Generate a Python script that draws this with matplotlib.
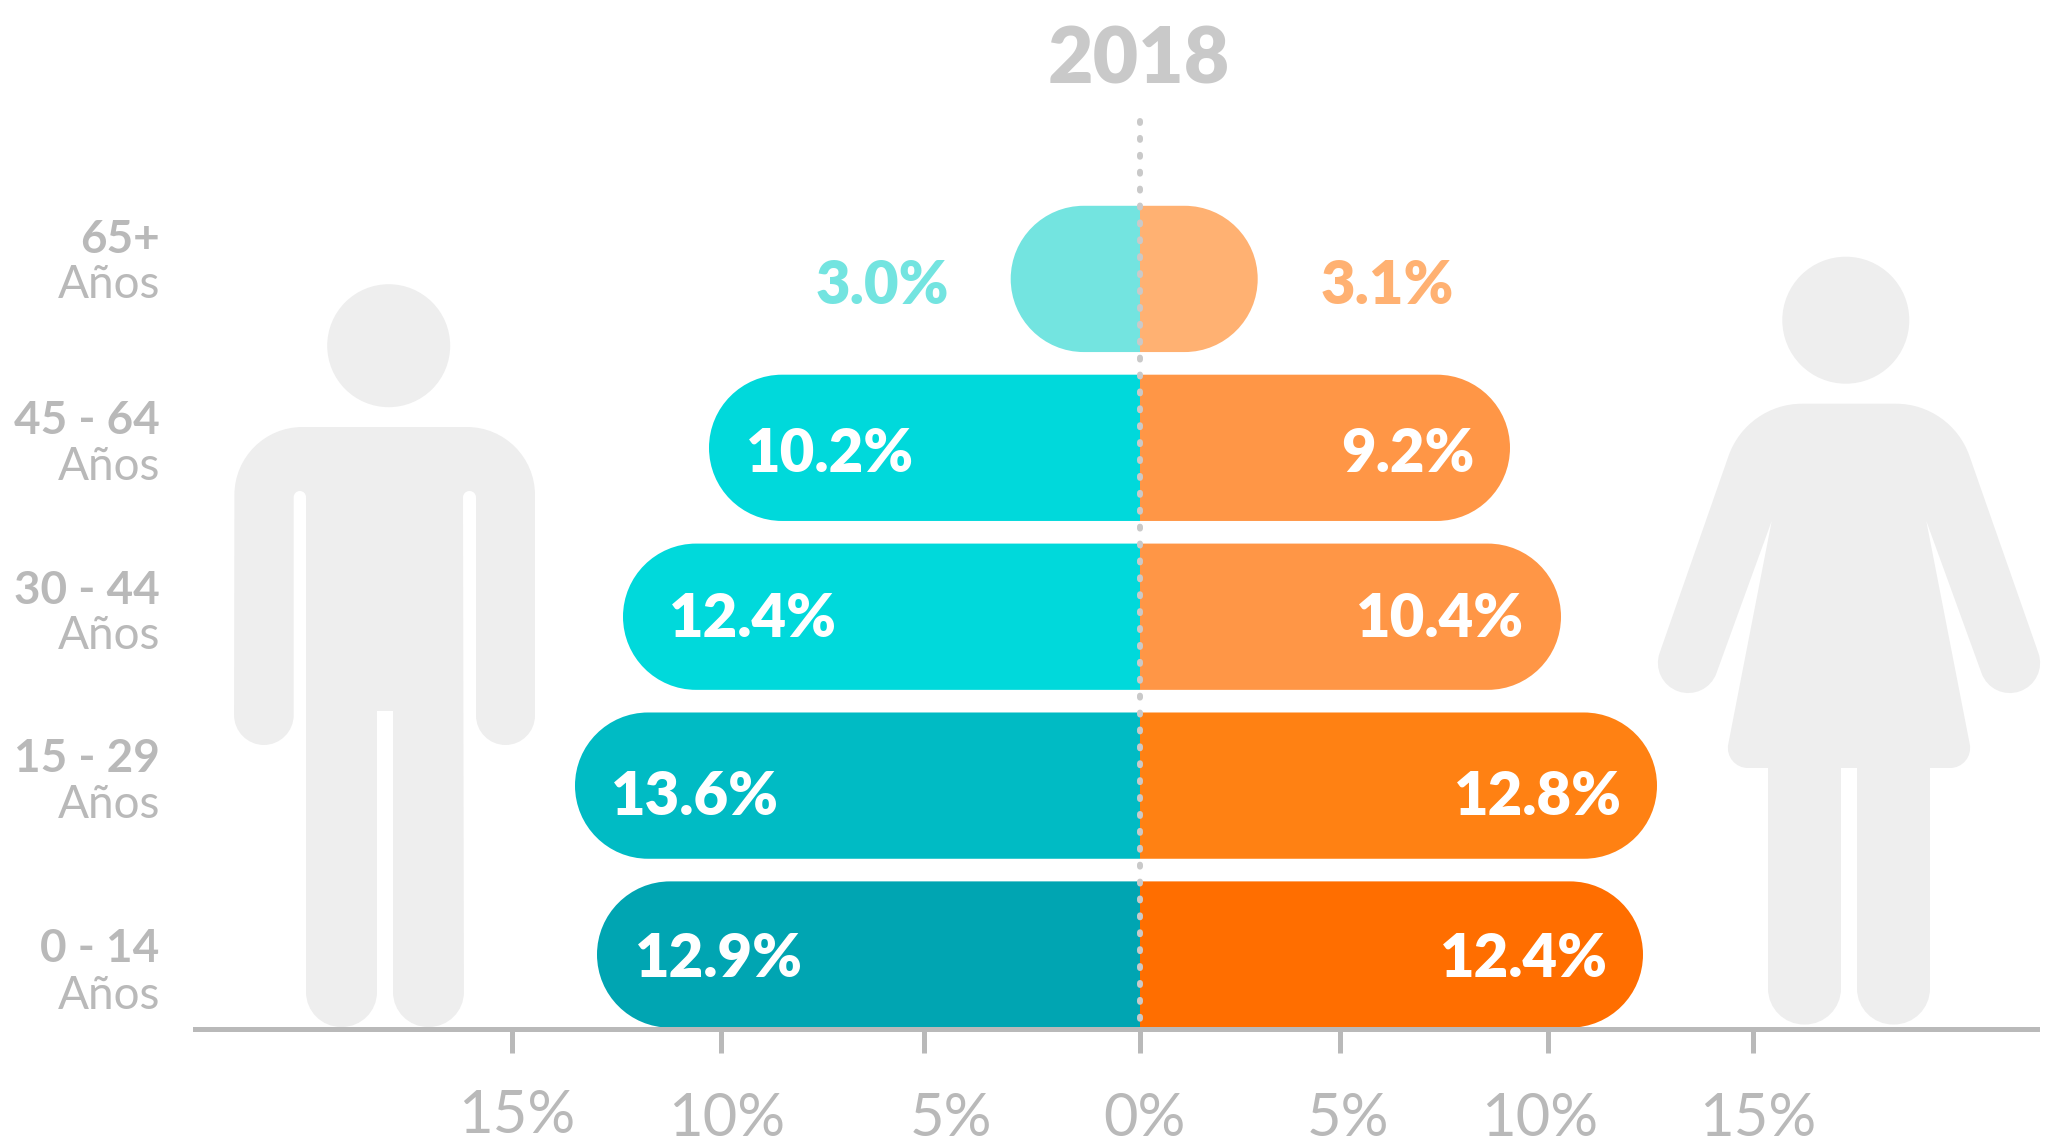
import numpy as np
import matplotlib
matplotlib.use("Agg")
import matplotlib.pyplot as plt
from matplotlib.path import Path
from matplotlib.patches import PathPatch
from matplotlib.transforms import IdentityTransform, ScaledTranslation

# ---- data ----
ages = ["0 - 14", "15 - 29", "30 - 44", "45 - 64", "65+"]
men = [12.9, 13.6, 12.4, 10.2, 3.0]
women = [12.4, 12.8, 10.4, 9.2, 3.1]
ticks = [-15, -10, -5, 0, 5, 10, 15]
year = "2018"

# ---- style ----
W, H = 2055, 1147
men_cols = ["#00a5b2", "#00bbc4", "#00d9db", "#00d9db", "#73e4e0"]
women_cols = ["#ff6e00", "#ff8113", "#ff9646", "#ff9646", "#ffb172"]
GREY = "#b9b9b9"
SIL = "#eeeeee"
plt.rcParams["font.family"] = ["Lato", "DejaVu Sans"]

fig = plt.figure(figsize=(W / 100, H / 100), dpi=100, facecolor="white")
L, R, T, B = 194.5, 2036.5, 121, 1028.5
ax = fig.add_axes([L / W, 1 - B / H, (R - L) / W, (B - T) / H])

# piecewise x scale of the hand-drawn pyramid (percent -> pixels from centre)
_v = np.array([-23, -15, -13.6, -12.9, -12.4, -10.2, -10, -5, -3, 0,
               3.1, 5, 9.2, 10, 10.4, 12.4, 12.8, 15, 23], float)
_p = np.array([-945.5, -628.4, -565, -543, -517, -431, -418.6, -216.4, -129.3, 0,
               117.7, 200, 370, 407.7, 421, 503, 517, 613, 896.5], float)
ax.set_xscale("function", functions=(lambda a: np.interp(a, _v, _p),
                                     lambda a: np.interp(a, _p, _v)))
ax.set_xlim(-23, 23)
ax.set_ylim(-0.438, 4.935)
ax.set_facecolor("none")
for s in ("top", "left", "right"):
    ax.spines[s].set_visible(False)
ax.spines["bottom"].set_linewidth(3.6)
ax.spines["bottom"].set_color(GREY)
ax.spines["bottom"].set_zorder(6)
ax.set_yticks([])
ax.set_xticks(ticks)
ax.set_xticklabels([f"{abs(t)}%" for t in ticks])
ax.tick_params(axis="x", length=17.4, width=3.6, color=GREY, labelcolor=GREY,
               labelsize=43, pad=60)
dx = [3.5, 3.5, 20, 3.5, 6, -6, 3.5]
dy = [2, 0, 0, 0, 0, 0, 0]
for tk, a, b in zip(ax.xaxis.get_major_ticks(), dx, dy):
    lab = tk.label1
    lab.set_fontweight("regular")
    lab.set_va("baseline")
    lab.set_transform(lab.get_transform() +
                      ScaledTranslation(a / 72, b / 72, fig.dpi_scale_trans))


def rounded(pts):
    """closed path in reference pixels from (x, y, radius) corners"""
    n = len(pts)
    verts, codes = [], []
    for i in range(n):
        p = np.array(pts[i][:2], float)
        r = pts[i][2]
        a = np.array(pts[i - 1][:2], float)
        c = np.array(pts[(i + 1) % n][:2], float)
        if r <= 0:
            verts.append(p)
            codes.append(Path.LINETO)
            continue
        u = (a - p) / np.linalg.norm(a - p)
        w = (c - p) / np.linalg.norm(c - p)
        ang = np.arccos(np.clip(u @ w, -1, 1))
        turn = np.pi - ang
        t = r * np.tan(turn / 2)
        k = 4 / 3 * np.tan(turn / 4) * r
        s, e = p + u * t, p + w * t
        verts += [s, s - u * k, e - w * k, e]
        codes += [Path.LINETO, Path.CURVE4, Path.CURVE4, Path.CURVE4]
    codes[0] = Path.MOVETO
    verts.append(verts[0])
    codes.append(Path.CLOSEPOLY)
    v = np.array(verts)
    v[:, 1] = H - v[:, 1]
    return Path(v, codes)


def add_px(path, color, z):
    ax.add_patch(PathPatch(path, facecolor=color, edgecolor="none", lw=0,
                           transform=IdentityTransform(), clip_on=False, zorder=z))


def circle_px(x, y, r):
    return Path(Path.unit_circle().vertices * r + [x, H - y], Path.unit_circle().codes)


# ---- silhouettes ----
add_px(circle_px(388.7, 345.7, 61.5), SIL, 1)
add_px(rounded([(234.5, 427, 68), (535, 427, 68), (535, 745, 29.5), (476, 745, 29.5),
                (476, 491, 6.4), (463, 491, 6.4), (464, 1027, 35), (393, 1027, 35),
                (393, 711, 0), (377, 711, 0), (377, 1027, 35), (306, 1027, 35),
                (306, 491, 6.1), (293.7, 491, 6.1), (293.7, 745, 30), (234, 745, 30)]),
       SIL, 1)
add_px(circle_px(1845.8, 320.2, 63.5), SIL, 1)
half = [(1746.8, 403.7, 78), (1649.7, 681.3, 30), (1706.3, 701.2, 30), (1771.7, 521, 0),
        (1723.6, 768, 20), (1768, 768, 0), (1768, 1024.5, 36), (1841, 1024.5, 36),
        (1841, 768, 0)]
add_px(rounded(half + [(2 * 1849 - x, y, r) for x, y, r in reversed(half)]), SIL, 1)

# ---- bars ----
bar_h = 0.866
fig.canvas.draw()
centre = ax.transData.transform((0, 0))[0]
for i, (m, f) in enumerate(zip(men, women)):
    x0 = ax.transData.transform((-m, i))[0]
    x1 = ax.transData.transform((f, i))[0]
    y0 = H - ax.transData.transform((0, i - bar_h / 2))[1]
    y1 = H - ax.transData.transform((0, i + bar_h / 2))[1]
    r = abs(y1 - y0) / 2
    add_px(rounded([(centre, y0, 0), (centre, y1, 0), (x0, y1, r), (x0, y0, r)]), men_cols[i], 3)
    add_px(rounded([(centre, y0, 0), (x1, y0, r), (x1, y1, r), (centre, y1, 0)]), women_cols[i], 3)

# ---- centre dotted line ----
ax.plot([0, 0], [1, 0], transform=ax.get_xaxis_transform(), color="#c9c9c9", lw=4.3,
        linestyle=(0, (0.33, 2.5)), dash_capstyle="round", clip_on=False, zorder=5)


# ---- text ----
def px_text(x, y, s, **kw):
    fig.text(x / W, 1 - y / H, s, va="baseline", **kw)


px_text(1139, 83, year, ha="center", fontsize=56.5, fontweight="heavy", color="#c9c9c9")

man_x = [634.5, 610.5, 668.5, 745.5, 949]
man_base = [977, 815, 637, 472, 304]
woman_x = [1607.5, 1621.5, 1524.5, 1474.5, 1454]
for i in range(5):
    cm = men_cols[i] if i == 4 else "white"
    cw = women_cols[i] if i == 4 else "white"
    px_text(man_x[i], man_base[i], f"{men[i]:.1f}%", ha="right" if i == 4 else "left",
            fontsize=43, fontweight="heavy", color=cm, zorder=7)
    px_text(woman_x[i], man_base[i], f"{women[i]:.1f}%", ha="right",
            fontsize=43, fontweight="heavy", color=cw, zorder=7)

age_base = [962, 772.5, 603.5, 434.5, 253]
anos_base = [1009, 818, 649, 480, 298]
for a, b1, b2 in zip(ages, age_base, anos_base):
    px_text(159.5, b1, a, ha="right", fontsize=33, fontweight="bold", color=GREY)
    px_text(160, b2, "Años", ha="right", fontsize=33, color=GREY)

fig.savefig("out.png", dpi=100, facecolor="white")
